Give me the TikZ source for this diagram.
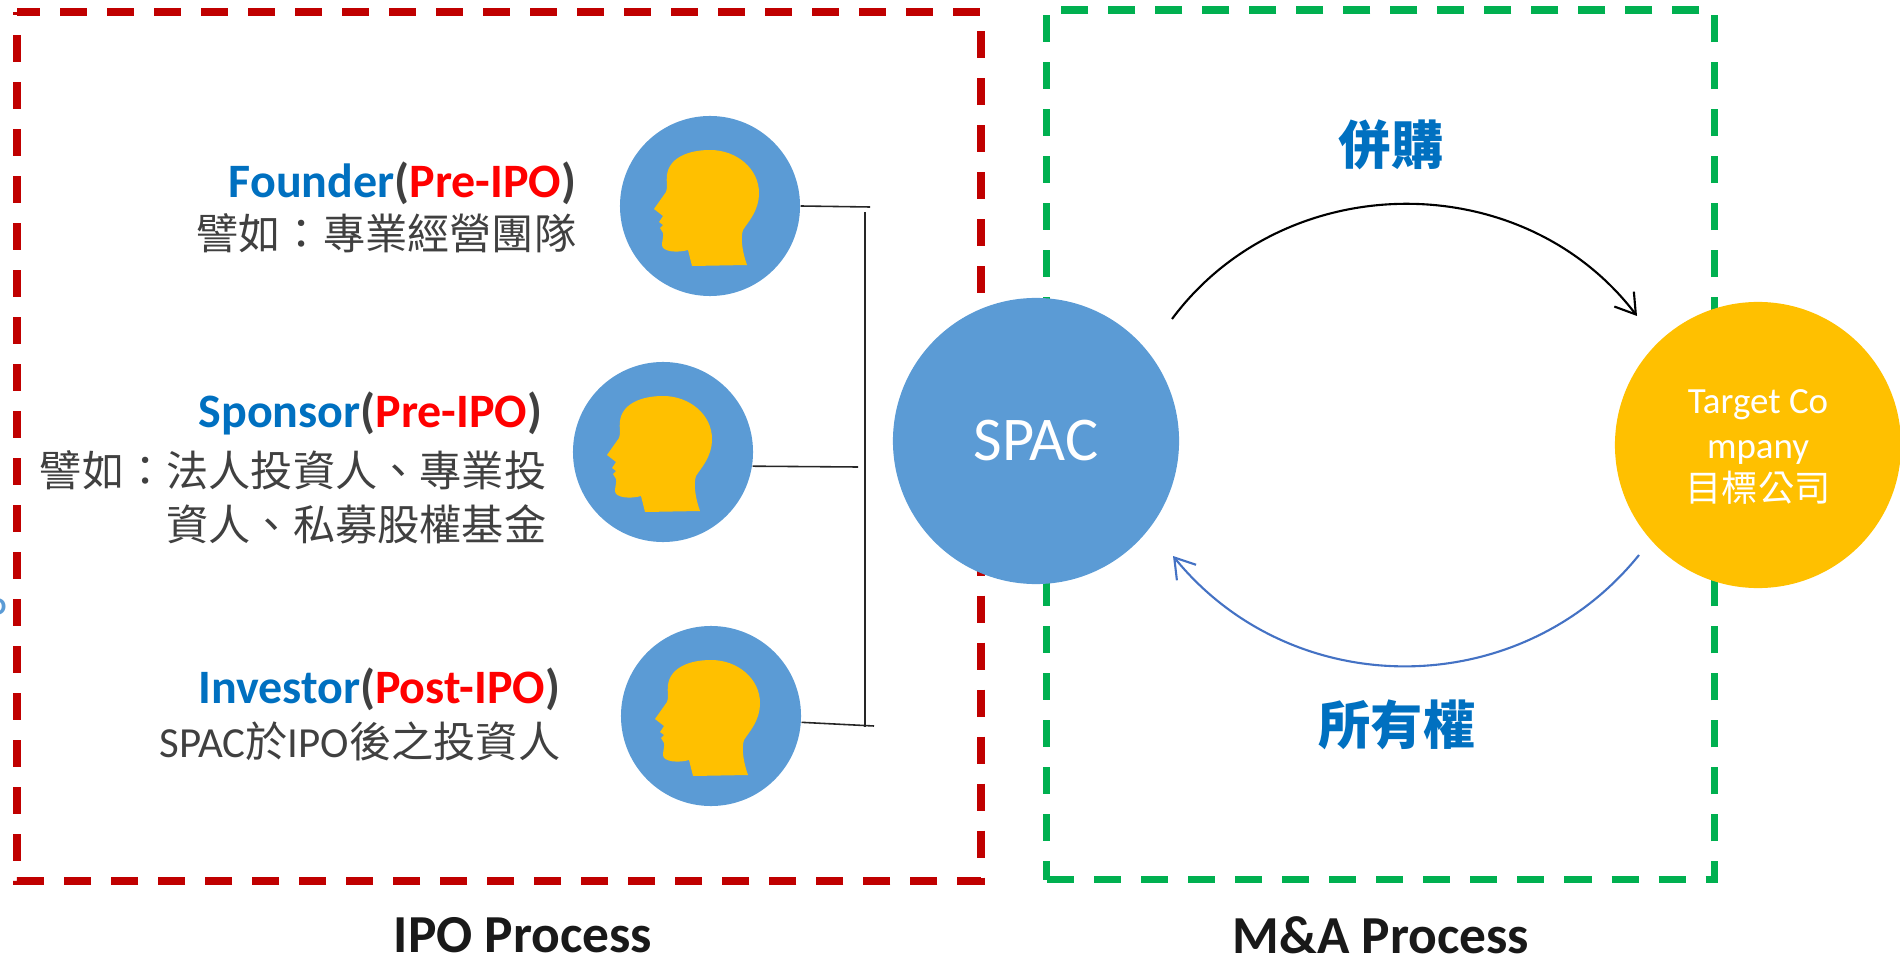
\documentclass[tikz,border=0pt]{standalone}
\usepackage{fontspec}
\setmainfont{Carlito}
\newfontfamily\cjktc{Noto Sans CJK TC}
\usetikzlibrary{arrows.meta}
\definecolor{circleblue}{HTML}{5B9BD5}
\definecolor{headgold}{HTML}{FFC000}
\definecolor{ipored}{HTML}{C00000}
\definecolor{magreen}{HTML}{00B050}
\definecolor{titleblue}{HTML}{0070C0}
\definecolor{noteblack}{HTML}{404040}
\definecolor{arcblue}{HTML}{4472C4}
\newcommand{\rolename}[2]{{\color{titleblue}#1}{\color{noteblack}(}{\color{red}#2}{\color{noteblack})}}
\newcommand{\latinpart}[1]{{\rmfamily\fontsize{12.2}{15.3}\selectfont #1}}
\tikzset{
	processbox/.style = {line width=2pt, dash pattern=on 7.68pt off 5.69pt},
	rolecircle/.style = {circle, fill=circleblue, minimum size=51.2pt, inner sep=0pt},
	roletitle/.style = {anchor=east, font=\fontsize{13.65}{16}\selectfont\bfseries, inner sep=0pt},
	rolenote/.style = {anchor=east, align=right, text=noteblack, font=\fontsize{12}{15.3}\selectfont\cjktc, inner sep=0pt},
	branchline/.style = {line width=0.45pt, black!85},
	dealtext/.style = {text=titleblue, font=\fontsize{14.85}{17}\selectfont\cjktc\bfseries, inner sep=0pt},
	processtext/.style = {font=\fontsize{15.2}{18}\selectfont\bfseries, text=black!90, inner sep=0pt},
	head/.pic = {
		\fill [headgold] (37,59) -- (-18,60) -- (-22,44) .. controls (-32,47) and (-48,46) .. (-48,39) .. controls (-48,34) and (-46,30) .. (-47,27) -- (-50,22) -- (-47,19) -- (-51,16) -- (-47,10) -- (-56,3) -- (-44,-14) .. controls (-42,-18) and (-44,-25) .. (-43,-31) .. controls (-41,-48) and (-22,-56) .. (0,-56) .. controls (27,-56) and (49,-37) .. (49,-13) .. controls (49,5) and (38,16) .. (33,24) .. controls (30,33) and (33,48) .. (37,59) -- cycle;
	}
}
\begin{document}
\begin{tikzpicture}[x=0.01cm, y=-0.01cm]
	\useasboundingbox (0,0) rectangle (1900,955);
	% process frames
	\coordinate (iponw) at (17,12);
	\coordinate (ipone) at (981,12);
	\coordinate (ipose) at (981,881);
	\coordinate (iposw) at (17,881);
	\coordinate (manw) at (1046.3,10);
	\coordinate (mane) at (1714.3,10);
	\coordinate (mase) at (1714.3,879.7);
	\coordinate (masw) at (1046.3,879.7);
	\draw [processbox, draw=ipored, dash phase=1.14pt] (iponw) -- (ipone) -- (ipose) -- (iposw) -- cycle;
	\draw [processbox, draw=magreen, dash phase=13.09pt] (masw) -- (mase) -- (mane) -- (manw) -- cycle;
	\node (cutoff) [anchor=east, inner sep=0pt, text=circleblue, font=\fontsize{12}{14}\selectfont] at (8,612) {P};
	% people
	\node (founder) [rolecircle] at (710,206) {};
	\node (sponsor) [rolecircle] at (663,452) {};
	\node (investor) [rolecircle] at (711,716) {};
	\pic at (founder) {head};
	\pic at (sponsor) {head};
	\pic at (investor) {head};
	\node (foundertitle) [roletitle] at (577,183) {\rolename{Founder}{Pre-IPO}};
	\node (foundernote) [rolenote] at (577,233) {譬如：專業經營團隊};
	\node (sponsortitle) [roletitle] at (543,413) {\rolename{Sponsor}{Pre-IPO}};
	\node (sponsornote) [rolenote] at (547,497) {譬如：法人投資人、專業投\\資人、私募股權基金};
	\node (investortitle) [roletitle] at (561,689) {\rolename{Investor}{Post-IPO}};
	\node (investornote) [rolenote] at (561,741) {\latinpart{SPAC}於\latinpart{IPO}後之投資人};
	% branch lines
	\coordinate (busfounder) at (870,207);
	\coordinate (bussponsor) at (858,467);
	\coordinate (businvestor) at (874,726);
	\coordinate (bustop) at (865,212);
	\coordinate (busbottom) at (865,727);
	\draw [branchline] (founder.east) -- (busfounder);
	\draw [branchline] (sponsor.-9) -- (bussponsor);
	\draw [branchline] (investor.-4) -- (businvestor);
	\draw [branchline] (bustop) -- (busbottom);
	% deal partners
	\node (spac) [circle, fill=circleblue, minimum size=286*0.2845pt, inner sep=0pt, text=white, font=\fontsize{17.7}{20}\selectfont] at (1036,441) {SPAC};
	\node (target) [circle, fill=headgold, minimum size=286*0.2845pt, inner sep=0pt] at (1758,445) {};
	\node (targetname) [text=white, align=center, inner sep=0pt, font=\fontsize{10.5}{13}\selectfont] at (1758,427) {Target Co\\mpany};
	\node (targetcjk) [text=white, inner sep=0pt, font=\fontsize{10.3}{13}\selectfont\cjktc] at (1758,488) {目標公司};
	\coordinate (acqstart) at (1172,319);
	\coordinate (acqend) at (1637,316);
	\coordinate (ownstart) at (1639,555);
	\coordinate (ownend) at (1173,556);
	\draw [line width=0.6pt, -{Straight Barb[length=5.5pt, width=7pt]}] (acqstart) to [bend left=53, looseness=1.04] (acqend);
	\draw [line width=0.6pt, arcblue, -{Straight Barb[length=5.5pt, width=7pt]}] (ownstart) to [bend left=51, looseness=1.04] (ownend);
	\node (acqtext) [dealtext] at (1391,145) {併購};
	\node (owntext) [dealtext] at (1397,725) {所有權};
	% captions
	\node (ipocaption) [processtext] at (523,935) {IPO Process};
	\node (macaption) [processtext] at (1381,935) {M\&A Process};
\end{tikzpicture}
\end{document}
